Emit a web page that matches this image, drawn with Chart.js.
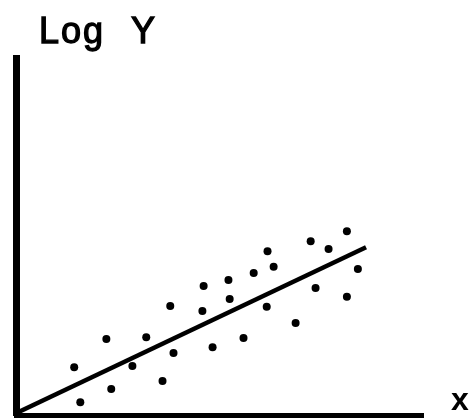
<!DOCTYPE html>
<html>
<head>
<meta charset="utf-8">
<script src="https://cdn.jsdelivr.net/npm/chart.js@4"></script>
<style>
  html, body { margin: 0; padding: 0; background: #fff; }
  #wrap { width: 471px; height: 419px; position: relative; }
</style>
</head>
<body>
<div id="wrap"><canvas id="logChart"></canvas></div>
<script>
/* -------------------------------------------------------
   Data (arbitrary units 0-100)
------------------------------------------------------- */
const pointX = [14.3, 15.8, 22.2, 23.4, 28.6, 32.0, 36.0, 37.9, 38.7, 46.1, 45.8, 48.3, 52.2,
                52.5, 55.9, 58.4, 61.8, 63.3, 61.6, 68.7, 72.4, 73.6, 76.8, 81.3, 84.0, 81.3];
const pointY = [13.4, 3.6, 21.3, 7.3, 13.7, 21.8, 9.5, 30.5, 17.4, 36.1, 29.1, 19.0, 37.8,
                32.5, 21.6, 39.8, 45.9, 41.5, 30.3, 25.8, 48.7, 35.6, 46.5, 51.5, 40.9, 33.1];
const fitX = [0, 86];
const fitY = [0.5, 47];
const yLabel = 'Log Y';
const xLabel = 'x';

/* -------------------------------------------------------
   Axis labels drawn as canvas text
------------------------------------------------------- */
const axisLabels = {
  id: 'axisLabels',
  afterDraw(chart) {
    const ctx = chart.ctx;
    ctx.save();
    ctx.fillStyle = '#000';
    ctx.strokeStyle = '#000';
    ctx.lineWidth = 1.3;
    ctx.textBaseline = 'alphabetic';
    ctx.font = '36px "Liberation Sans", Arial, sans-serif';
    ctx.letterSpacing = '2px';
    ctx.wordSpacing = '14px';
    ctx.fillText(yLabel, 39, 43);
    ctx.strokeText(yLabel, 39, 43);
    ctx.letterSpacing = '0px';
    ctx.wordSpacing = '0px';
    ctx.font = 'bold 32px "Liberation Sans", Arial, sans-serif';
    ctx.fillText(xLabel, 451, 410);
    ctx.restore();
  }
};

new Chart(document.getElementById('logChart'), {
  type: 'scatter',
  data: {
    datasets: [{
      data: pointX.map((x, i) => ({ x, y: pointY[i] })),
      backgroundColor: '#000',
      borderWidth: 0,
      pointRadius: 4,
    }, {
      type: 'line',
      data: fitX.map((x, i) => ({ x, y: fitY[i] })),
      borderColor: '#000',
      borderWidth: 4.5,
      pointRadius: 0,
      fill: false,
    }]
  },
  options: {
    responsive: true,
    maintainAspectRatio: false,
    animation: false,
    layout: { padding: { left: 16, right: 48, top: 58, bottom: 2 } },
    plugins: { legend: { display: false }, tooltip: { enabled: false } },
    scales: {
      x: {
        type: 'linear', min: 0, max: 100,
        grid: { display: false, drawTicks: false },
        border: { display: true, color: '#000', width: 5 },
        ticks: { display: false }
      },
      y: {
        type: 'linear', min: 0, max: 100,
        grid: { display: false, drawTicks: false },
        border: { display: true, color: '#000', width: 7 },
        ticks: { display: false }
      }
    }
  },
  plugins: [axisLabels]
});
</script>
</body>
</html>
